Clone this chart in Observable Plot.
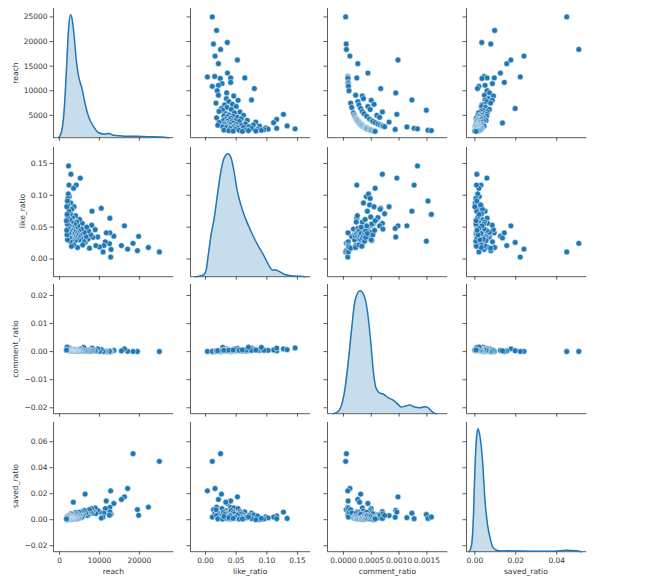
<!DOCTYPE html>
<html><head><meta charset="utf-8">
<script src="https://cdn.jsdelivr.net/npm/d3@7"></script>
<script src="https://cdn.jsdelivr.net/npm/@observablehq/plot@0.6"></script>
<style>
body{margin:0;background:#fff;}
#fig{position:relative;width:650px;height:588px;background:#fff;overflow:hidden;font-family:"DejaVu Sans",sans-serif;}
#fig svg{position:absolute;}
.lab{position:absolute;font-size:7.6px;color:#333;white-space:nowrap;font-family:"DejaVu Sans",sans-serif;}
</style></head><body><div id="fig"></div>
<script>
// ---------------- data ----------------
const variables = ["reach", "like_ratio", "comment_ratio", "saved_ratio"];

const reach = [25000,22250,19500,19800,18400,17050,16250,15500,13600,
12900,12800,12600,12600,12500,11700,11460,11100,10900,10450,10000,
9560,9090,8930,8390,8130,8060,7800,7500,7250,7100,
6800,6600,6400,6200,6040,5800,5690,5500,5350,5200,5100,5010,
4900,4800,4700,4600,4500,4400,4300,4250,4190,4100,4000,3950,3900,3800,3750,3700,3640,3550,
3510,3450,3400,3300,3250,3200,3150,3100,3050,3000,2950,2900,2860,2830,2800,2750,2700,2650,2640,2600,2580,2550,2520,
2480,2450,2400,2370,2350,2300,2260,2200,2150,2150,2100,2050,2000,1970,1950,1900,1880,1820,1800,1750];

const likeRatio = [0.011,0.018,0.013,0.0355,0.0245,0.0155,0.052,0.021,0.0358,
0.015,0.003,0.041,0.064,0.024,0.041,0.027,0.021,0.011,0.0796,0.019,
0.0345,0.021,0.046,0.034,0.075,0.053,0.038,0.017,0.044,0.031,
0.050,0.035,0.026,0.042,0.028,0.022,0.056,0.047,0.033,0.127,0.038,0.062,
0.030,0.045,0.036,0.052,0.018,0.041,0.058,0.032,0.116,0.039,0.068,0.029,0.048,0.035,0.055,0.043,0.082,0.022,
0.111,0.033,0.045,0.037,0.065,0.031,0.050,0.040,0.078,0.020,0.058,0.033,0.133,0.047,0.088,0.036,0.071,0.028,0.052,0.042,0.038,0.062,0.044,
0.034,0.098,0.052,0.116,0.075,0.040,0.146,0.102,0.085,0.048,0.095,0.066,0.030,0.091,0.055,0.070,0.038,0.082,0.045,0.060];

const commentRatio = [0.00004,null,0.00005,null,0.000054,0.000117,0.00098,0.000258,0.00044,
0.000078,0.000078,0.00008,0.00024,0.00008,0.000085,0.000087,0.00009,0.00009,0.00067,0.0001,
0.00094,0.00022,0.00034,0.00036,0.00123,0.0005,0.00026,0.00013,0.00055,0.00028,
0.00044,0.00015,0.00031,0.00048,0.00149,0.00034,0.0007,0.00018,0.00037,0.00096,0.0002,0.0006,
0.0002,0.00042,0.00021,0.00065,0.00022,0.00023,0.00023,0.00047,0.00024,0.00024,0.00025,0.00051,0.00026,0.00026,0.00053,0.00027,0.00082,0.00028,
0.00057,0.00029,0.00029,0.0003,0.00062,0.00031,0.00032,0.00032,0.00066,0.00033,0.00034,0.00034,0.0007,0.00071,0.00036,0.00036,0.00074,0.00038,0.00114,0.00038,0.00039,0.00039,0.0004,
0.0004,0.00041,0.00042,0.00127,0.00043,0.00043,0.00133,0.00045,0.00047,0.00093,0.00048,0.00049,0.0005,0.00152,0.00051,0.00158,0.00053,0.00055,0.00056,0.00057];

const savedRatio = [0.0449,0.0097,0.0078,0.0034,0.0508,0.0240,0.0176,0.0156,0.0125,
0.0045,0.0222,0.0095,0.0060,0.0035,0.0144,0.0086,0.0050,0.0020,0.0013,0.0060,
0.0072,0.0047,0.0091,0.0066,0.0050,0.0085,0.0058,0.0077,0.0044,0.0034,
0.0033,0.0052,0.0197,0.0071,0.0040,0.0030,0.0062,0.0018,0.0045,0.0059,0.0026,0.0035,
0.0014,0.0057,0.0021,0.0040,0.0031,0.0007,0.0048,0.0016,0.0030,0.0012,0.0023,0.0055,0.0012,0.0009,0.0044,0.0019,0.0032,0.0008,
0.0020,0.0135,0.0010,0.0021,0.0015,0.0041,0.0011,0.0006,0.0037,0.0007,0.0018,0.0013,0.0010,0.0045,0.0002,0.0013,0.0033,0.0005,0.0016,0.0027,0.0009,0.0008,0.0020,
0.0012,0.0022,0.0035,0.0008,0.0009,0.0030,null,0.0014,0.0028,0.0019,0.0005,0.0015,0.0025,0.0010,0.0005,0.0021,0.0016,0.0000,0.0011,0.0006];

// density curves of the diagonal (relative to each peak)
const kdeReachX = [-250,430,1000,1430,1850,2260,2760,3190,3690,4190,4770,5620,6450,7280,8530,9790,11040,12300,13550,15230,16910,18570,20250,21930,23590,25270,27350];
const kdeReachD = [0,0.04,0.16,0.36,0.63,0.88,1.0,0.96,0.82,0.63,0.50,0.40,0.27,0.17,0.09,0.04,0.03,0.035,0.02,0.015,0.012,0.012,0.01,0.008,0.007,0.005,0];
const kdeLikeX = [-0.0163,-0.0054,0,0.0054,0.0093,0.0136,0.019,0.0245,0.030,0.0365,0.042,0.0463,0.0517,0.0572,0.0654,0.0735,0.0817,0.0871,0.0953,0.1035,0.109,0.1144,0.1198,0.128,0.139,0.155,0.163];
const kdeLikeD = [0,0.01,0.035,0.21,0.35,0.46,0.65,0.84,0.96,1.0,0.96,0.86,0.70,0.59,0.47,0.375,0.29,0.24,0.17,0.09,0.054,0.054,0.043,0.02,0.008,0.003,0];
const kdeCommentX = [-0.000179,-0.0000893,-0.0000286,0.0000304,0.0000893,0.00015,0.000209,0.000298,0.00037,0.000429,0.000489,0.000536,0.000584,0.000643,0.000714,0.000804,0.000893,0.000982,0.00104,0.00112,0.00119,0.00128,0.00137,0.00146,0.00152,0.00158,0.00164,0.00167];
const kdeCommentD = [0,0.02,0.076,0.21,0.43,0.70,0.92,1.0,0.96,0.84,0.59,0.35,0.21,0.17,0.16,0.13,0.11,0.076,0.054,0.063,0.07,0.054,0.049,0.057,0.049,0.022,0.003,0];
const kdeSavedX = [-0.0028,-0.0016,-0.00065,0,0.0008,0.0015,0.0024,0.0038,0.0049,0.0062,0.0075,0.0087,0.0103,0.0127,0.016,0.0225,0.0307,0.0389,0.0446,0.0495,0.0519];
const kdeSavedD = [0,0.054,0.30,0.65,0.92,1.0,0.95,0.73,0.43,0.22,0.11,0.04,0.014,0.005,0.008,0.005,0.003,0.003,0.011,0.008,0];

// tick values
const xTicks = {reach: [0, 10000, 20000], like_ratio: [0, 0.05, 0.10, 0.15], comment_ratio: [0, 0.0005, 0.0010, 0.0015], saved_ratio: [0, 0.02, 0.04]};
const yTicks = {reach: [5000, 10000, 15000, 20000, 25000], like_ratio: [0, 0.05, 0.10, 0.15], comment_ratio: [-0.02, -0.01, 0, 0.01, 0.02], saved_ratio: [-0.02, 0, 0.02, 0.04, 0.06]};

// ---------------- build ----------------
const rows = reach.map((r, k) => ({reach: r, like_ratio: likeRatio[k], comment_ratio: commentRatio[k], saved_ratio: savedRatio[k]}));
const kde = {
  reach: kdeReachX.map((x, k) => ({x, d: kdeReachD[k]})),
  like_ratio: kdeLikeX.map((x, k) => ({x, d: kdeLikeD[k]})),
  comment_ratio: kdeCommentX.map((x, k) => ({x, d: kdeCommentD[k]})),
  saved_ratio: kdeSavedX.map((x, k) => ({x, d: kdeSavedD[k]}))
};

const xDomain = {reach: [-1506, 28607], like_ratio: [-0.0245, 0.1716], comment_ratio: [-0.000286, 0.001875], saved_ratio: [-0.00407, 0.0547]};
const yDomain = {reach: [463, 26709], like_ratio: [-0.0278, 0.175], comment_ratio: [-0.0221, 0.0239], saved_ratio: [-0.0246, 0.0748]};
const xFmt = {reach: d3.format("d"), like_ratio: d3.format(".2f"), comment_ratio: d3.format(".4f"), saved_ratio: d3.format(".2f")};
const yFmt = {reach: d3.format("d"), like_ratio: d3.format(".2f"), comment_ratio: d3.format(".2f"), saved_ratio: d3.format(".2f")};

const colLeft = [53.3, 190, 327.3, 465.7];
const rowTop = [8.3, 146.7, 284, 421.7];
const panelW = 120.3, panelH = 129.2;
const ML = 48, MR = 6, MT = 6, MB = 30;
const W = panelW + ML + MR, H = panelH + MT + MB;
const ink = "#333";
const blue = "#1f77b4";
const fig = document.getElementById("fig");
const svgStyle = {background: "transparent", fontFamily: "DejaVu Sans", fontSize: "7.5px", color: ink, overflow: "visible"};

function place(svg, i, j) {
  svg.style.left = (colLeft[j] - ML) + "px";
  svg.style.top = (rowTop[i] - MT) + "px";
  svg.style.maxWidth = "none";
  fig.appendChild(svg);
}

for (let i = 0; i < 4; i++) {
  for (let j = 0; j < 4; j++) {
    const xv = variables[j], yv = variables[i];
    const marks = [
      Plot.ruleX([xDomain[xv][0]], {stroke: ink, strokeWidth: 0.8}),
      Plot.ruleY([yDomain[yv][0]], {stroke: ink, strokeWidth: 0.8}),
      Plot.axisX({ticks: xTicks[xv], tickSize: 3.5, tickPadding: 2, strokeWidth: 0.8,
        tickFormat: i === 3 ? xFmt[xv] : () => "", label: null}),
      Plot.axisY({ticks: yTicks[yv], tickSize: 3.5, tickPadding: 2.5, strokeWidth: 0.8,
        tickFormat: j === 0 ? yFmt[yv] : () => "", label: null})
    ];
    if (i !== j) {
      marks.push(Plot.dot(rows.filter(d => d[xv] != null && d[yv] != null),
        {x: xv, y: yv, r: 2.9, fill: blue, stroke: "white", strokeWidth: 0.5}));
    }
    const svg = Plot.plot({
      width: W, height: H, marginLeft: ML, marginRight: MR, marginTop: MT, marginBottom: MB,
      x: {domain: xDomain[xv]}, y: {domain: yDomain[yv]},
      style: svgStyle, marks
    });
    place(svg, i, j);
    if (i === j) {
      const dens = Plot.plot({
        width: W, height: H, marginLeft: ML, marginRight: MR, marginTop: MT, marginBottom: MB,
        x: {domain: xDomain[xv], axis: null}, y: {domain: [0, 1.05], axis: null},
        style: svgStyle,
        marks: [
          Plot.areaY(kde[xv], {x: "x", y: "d", fill: blue, fillOpacity: 0.25, curve: "monotone-x"}),
          Plot.line(kde[xv], {x: "x", y: "d", stroke: blue, strokeWidth: 1.5, curve: "monotone-x"})
        ]
      });
      place(dens, i, j);
    }
  }
}

// axis titles
const yLabelX = [15, 21.7, 15, 15];
variables.forEach((v, j) => {
  const d = document.createElement("div");
  d.className = "lab"; d.textContent = v;
  d.style.left = (colLeft[j] + panelW / 2) + "px";
  d.style.top = "570.7px";
  d.style.transform = "translate(-50%,-50%)";
  fig.appendChild(d);
});
variables.forEach((v, i) => {
  const d = document.createElement("div");
  d.className = "lab"; d.textContent = v;
  d.style.left = yLabelX[i] + "px";
  d.style.top = (rowTop[i] + panelH / 2) + "px";
  d.style.transform = "translate(-50%,-50%) rotate(-90deg)";
  fig.appendChild(d);
});
</script>
</body></html>
